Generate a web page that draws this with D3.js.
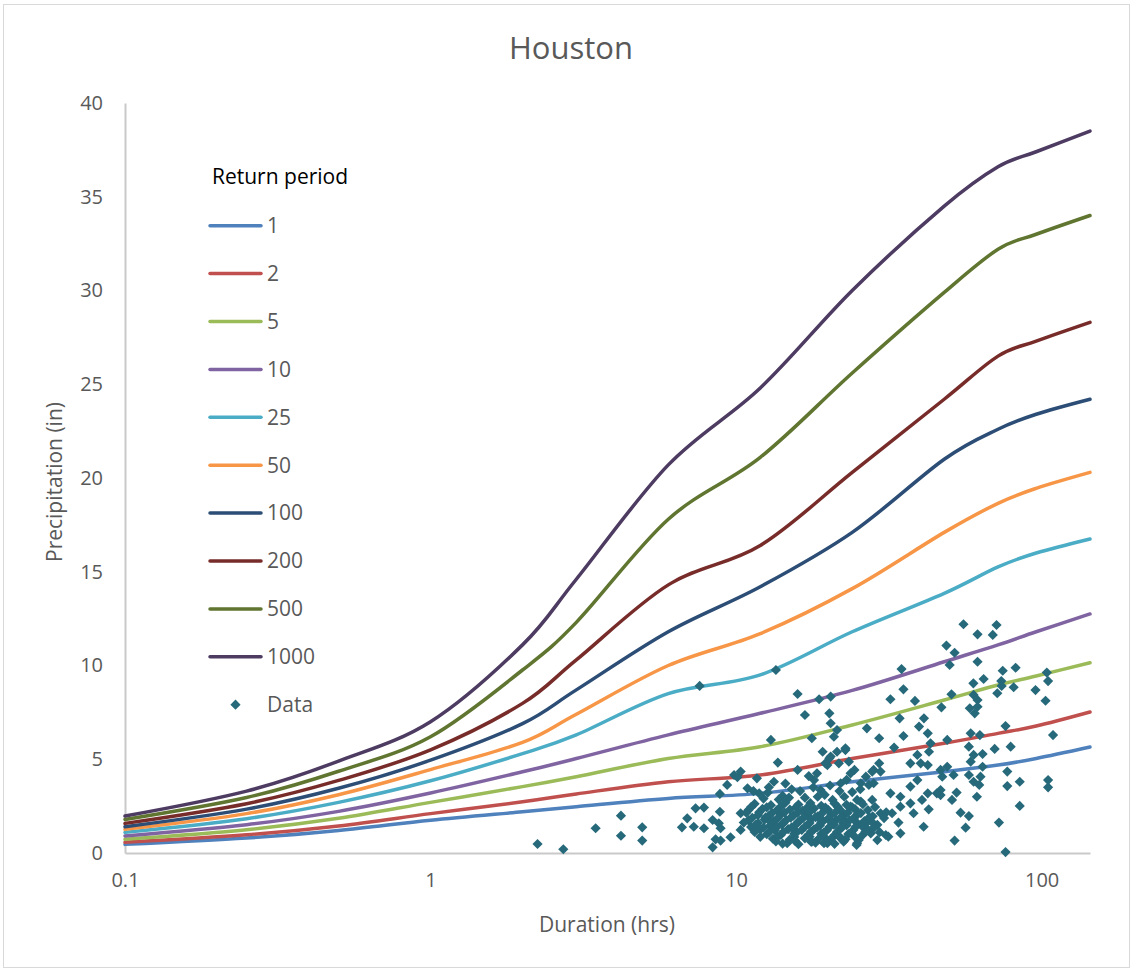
<!DOCTYPE html>
<html><head><meta charset="utf-8">
<script src="https://cdn.jsdelivr.net/npm/d3@7"></script>
<style>
body{margin:0;background:#fff}
svg{display:block}
text{font-family:"Open Sans","Noto Sans",sans-serif}
</style>
</head><body>
<svg id="chart" width="1133" height="972"></svg>
<script>
// ---------- data ----------
const durations = [0.1, 0.25, 0.5, 1, 2, 3, 6, 12, 24, 48, 72, 96, 144];
const returnPeriods = ["1", "2", "5", "10", "25", "50", "100", "200", "500", "1000"];
const rp1    = [0.46, 0.80, 1.20, 1.75, 2.20, 2.47, 2.91, 3.18, 3.80, 4.33, 4.69, 5.04, 5.65];
const rp2    = [0.57, 0.97, 1.44, 2.10, 2.73, 3.15, 3.80, 4.16, 5.04, 5.85, 6.38, 6.77, 7.52];
const rp5    = [0.73, 1.24, 1.85, 2.70, 3.54, 4.07, 5.04, 5.67, 6.83, 8.16, 8.96, 9.44, 10.15];
const rp10   = [0.91, 1.51, 2.22, 3.20, 4.33, 5.04, 6.30, 7.45, 8.67, 10.2, 11.1, 11.8, 12.75];
const rp25   = [1.10, 1.83, 2.70, 3.85, 5.30, 6.30, 8.50, 9.50, 11.8, 13.85, 15.26, 16.0, 16.75];
const rp50   = [1.26, 2.10, 3.11, 4.45, 5.90, 7.40, 10.0, 11.7, 14.1, 17.1, 18.65, 19.45, 20.3];
const rp100  = [1.40, 2.34, 3.45, 4.95, 6.90, 8.70, 11.8, 14.2, 17.1, 21.0, 22.6, 23.4, 24.2];
const rp200  = [1.58, 2.63, 3.87, 5.50, 7.98, 10.3, 14.3, 16.4, 20.3, 24.2, 26.5, 27.3, 28.3];
const rp500  = [1.79, 2.96, 4.36, 6.20, 9.76, 12.3, 17.8, 21.1, 25.6, 29.9, 32.2, 33.0, 34.0];
const rp1000 = [1.97, 3.30, 4.90, 7.00, 11.1, 14.6, 20.7, 24.8, 30.0, 34.5, 36.6, 37.4, 38.5];
const seriesValues = [rp1, rp2, rp5, rp10, rp25, rp50, rp100, rp200, rp500, rp1000];
const seriesColors = ["#4F81BD", "#C0504D", "#9BBB59", "#8064A2", "#4BACC6",
                      "#F79646", "#2C4D75", "#772C2A", "#5F7530", "#4D3B62"];

// observed data: [duration (hrs), precipitation (in)]
const dataPoints = [
 [2.24,0.48],[2.72,0.20],[3.47,1.32],[4.2,1.99],[4.2,0.92],[4.93,1.37],[4.93,0.66],
 [6.65,1.37],[6.92,1.85],[7.37,2.38],[7.85,2.42],[7.27,1.40],[7.85,1.32],[8.38,1.76],
 [8.85,2.20],[8.78,1.58],[8.9,1.32],[8.57,0.73],[8.9,0.66],[8.38,0.30],[9.59,0.84],
 [8.85,3.15],[9.35,3.63],[9.85,4.16],[10.35,4.34],[10.1,4.04],[10.9,3.45],[10.35,2.12],
 [10.35,1.23],[11.0,1.76],[11.7,3.98],[11.9,3.18],[12.7,3.22],[13.3,3.80],[13.7,4.82],
 [13.0,6.03],[7.6,8.91],[13.5,9.76],[15.9,8.48],[18.7,8.20],[20.4,8.34],[14.7,0.52],
 [15.9,4.43],[18.4,4.25],[19.2,5.40],[20.4,5.14],[21.4,5.40],[22.8,5.49],[19.9,4.69],
 [23.4,4.87],[23.7,4.25],[22.0,3.72],[25.6,3.72],[28.2,4.43],[25.6,2.74],[28.2,3.72],
 [17.7,0.60],[19.9,0.52],[22.0,0.78],[24.9,0.52],[27.6,1.05],
 [55.5,12.20],[71.2,12.16],[61.7,11.66],[69.2,11.63],[48.8,11.06],[51.9,10.68],[61.7,10.20],
 [50.0,10.03],[34.8,9.81],[74.6,9.72],[82.2,9.88],[104,9.62],[105,9.17],[64.6,9.28],
 [59.8,9.05],[73.8,9.17],[74.0,8.91],[81.0,8.84],[71.6,8.52],[95.5,8.69],[103,8.12],
 [35.3,8.73],[32.0,8.20],[38.5,8.11],[50.7,8.46],[59.9,8.43],[61.7,8.16],[58.2,7.72],
 [61.7,7.80],[60.4,7.45],[47.0,7.77],[34.3,7.18],[41.2,7.18],[39.7,6.74],[76.2,6.77],
 [109,6.29],[26.8,6.65],[29.4,6.12],[35.3,6.24],[32.9,5.62],[42.4,6.38],[43.3,5.85],
 [42.8,5.40],[49.1,6.03],[58.6,6.38],[62.8,6.29],[57.8,5.67],[59.9,5.23],[64.1,5.28],
 [58.6,4.87],[70.2,5.55],[79.2,5.67],[39.2,5.23],[40.2,4.78],[37.2,4.78],[42.4,4.69],
 [16.8,7.36],[20.2,7.45],[20.4,6.92],[21.4,6.56],[20.9,6.20],[17.7,6.12],[22.8,5.58],
 [20.2,5.05],[19.6,4.78],[21.7,4.78],[29.4,4.78],[29.7,4.34],[46.7,4.43],[49.1,4.60],
 [47.3,4.07],[51.5,4.16],[57.8,4.16],[59.9,3.80],[64.1,4.60],[63.1,4.07],[62.5,3.63],
 [61.4,3.00],[52.7,3.22],[77.2,4.34],[77.2,3.57],[84.8,3.80],[105,3.89],[105,3.50],
 [84.8,2.51],[72.5,1.62],[56.4,1.35],[51.9,0.66],[54.3,2.15],[57.8,1.97],[50.9,2.83],
 [46.7,3.09],[46.7,3.36],[76.2,0.05],[41.1,1.40],[38.1,2.12],[42.7,2.33],[37.2,2.65],
 [34.5,3.00],[34.5,2.47],[32.0,3.18],[32.4,2.12],[34.0,1.62],[34.5,1.05],[30.9,0.96],
 [29.0,0.69],[31.5,0.87],[26.6,1.58],[29.7,2.12],[27.9,2.83],[27.2,3.63],[24.9,2.83],
 [25.2,0.69],[24.8,0.43],[19.4,0.52],[22.5,1.76],[23.7,2.47],[20.7,2.83],[18.9,3.36],
 [18.0,3.89],[24.4,4.43],[26.6,4.07],[27.9,4.34],[37.2,3.54],[39.2,3.89],[42.4,3.18],
 [40.6,2.83],[45.4,3.18],
 [11.5,2.62],[13,2.55],[14.5,2.68],[16,2.58],[17.5,2.66],[19,2.52],[21,2.64],[23,2.57],[26,2.6],
 [11,2.3],[12.2,2.35],[13.6,2.28],[15,2.32],[16.5,2.25],[18,2.37],[20,2.3],[22,2.27],[24.5,2.34],[27,2.29],
 [11.8,2.02],[12.8,1.97],[14,2.05],[15.4,1.99],[17,2.03],[18.5,1.95],[20.5,2.04],[22.5,1.98],[25,2.06],[28,1.96],
 [11,1.72],[12.4,1.78],[13.3,1.7],[14.6,1.76],[16.2,1.73],[17.6,1.79],[19.3,1.71],[21.3,1.77],[23.5,1.74],[26.3,1.7],
 [11.6,1.5],[12.9,1.45],[14.1,1.52],[15.6,1.47],[17.2,1.53],[18.8,1.46],[20.9,1.51],[23,1.48],[25.8,1.44],[29,1.5],
 [12,1.25],[13.4,1.21],[14.8,1.27],[16.4,1.23],[18,1.26],[19.8,1.2],[21.8,1.28],[24.2,1.22],[27,1.25],
 [12.6,1.0],[14,0.96],[15.5,1.03],[17.3,0.98],[19,1.02],[21,0.95],[23.3,1.01],[26,0.97],
 [13.2,0.76],[15,0.72],[16.8,0.78],[18.6,0.74],[20.5,0.77],[22.8,0.73],
 [14.2,0.5],[16,0.47],[18.2,0.55],[21,0.49],
 [12.3,2.9],[14.2,3.05],[16.8,2.95],[19.5,3.1],[22.6,3.0],[15.2,3.4],[17.9,3.5],[21.8,3.3],[24,3.25],[13.8,2.85],
 [11.2,2.45],[12.6,2.43],[14.0,2.47],[15.7,2.44],[17.2,2.46],[19.6,2.42],[21.5,2.47],[24,2.44],[28.5,2.45],
 [10.8,2.15],[11.9,2.17],[13.1,2.13],[14.4,2.16],[15.9,2.14],[17.4,2.18],[19.1,2.12],[21.1,2.16],[23.2,2.15],[25.6,2.13],[31,2.17],
 [11.3,1.88],[12.5,1.9],[13.7,1.86],[15.1,1.89],[16.6,1.87],[18.2,1.91],[20.1,1.86],[22,1.89],[24.3,1.88],[27.3,1.9],[30.5,1.86],
 [10.6,1.62],[11.8,1.6],[13,1.64],[14.3,1.61],[15.9,1.63],[17.4,1.6],[19,1.64],[20.5,1.62],[22.4,1.6],[24.8,1.63],[28,1.61],
 [11.2,1.38],[12.3,1.36],[13.6,1.39],[15.2,1.37],[16.8,1.4],[18.4,1.36],[20.2,1.38],[22.2,1.35],[24.6,1.39],[28.3,1.37],
 [11.5,1.12],[12.8,1.1],[14.3,1.13],[15.8,1.11],[17.6,1.14],[19.4,1.1],[21.4,1.12],[23.8,1.09],[26.5,1.13],[29.5,1.11],
 [12,0.86],[13.7,0.88],[15.5,0.85],[17.4,0.87],[19.5,0.84],[21.8,0.88],[24.5,0.86],
 [13.5,0.62],[15.6,0.64],[17.6,0.6],[19.8,0.63],[22.5,0.61],
 [12.8,3.5],[14.5,3.7],[16.2,3.3],[18.5,3.0],[20.3,3.6],[23,3.9],[25.5,3.4],[11.4,3.3],[14.9,2.95],[17.3,4.1]
];

const xTicks = [0.1, 1, 10, 100];
const xTickLabels = ["0.1", "1", "10", "100"];
const yTicks = [0, 5, 10, 15, 20, 25, 30, 35, 40];
const chartTitle = "Houston";
const xTitle = "Duration (hrs)";
const yTitle = "Precipitation (in)";
const legendTitle = "Return period";
const dataLabel = "Data";
const markerColor = "#26697A";

// ---------- layout ----------
const svg = d3.select("#chart");
const W = 1133, H = 972;
const plot = {left: 125, right: 1090, top: 103, bottom: 853};
const textColor = "#595959";

svg.append("rect").attr("x", 0).attr("y", 0).attr("width", W).attr("height", H).attr("fill", "#fff");
svg.append("rect").attr("x", 3.5).attr("y", 4.5).attr("width", 1126).attr("height", 963)
   .attr("fill", "none").attr("stroke", "#d9d9d9").attr("stroke-width", 1);

const x = d3.scaleLog().domain([0.1, 144]).range([plot.left, plot.right]);
const y = d3.scaleLinear().domain([0, 40]).range([plot.bottom, plot.top]);

// axes
const xAxis = d3.axisBottom(x).tickValues(xTicks).tickFormat((d, i) => xTickLabels[i]).tickSize(0).tickPadding(20);
const yAxis = d3.axisLeft(y).tickValues(yTicks).tickFormat(d3.format("d")).tickSize(0).tickPadding(22);

const gx = svg.append("g").attr("transform", `translate(0,${plot.bottom})`).call(xAxis);
const gy = svg.append("g").attr("transform", `translate(${plot.left},0)`).call(yAxis);
[gx, gy].forEach(g => {
  g.select(".domain").attr("stroke", "#c9c9c9").attr("stroke-width", 2);
  g.selectAll("text").attr("fill", textColor).style("font-size", "20px").style("font-family", '"Open Sans", sans-serif');
});

// titles
svg.append("text").attr("x", 571).attr("y", 48).attr("text-anchor", "middle").attr("dy", "0.35em")
  .attr("fill", textColor).style("font-size", "31px").text(chartTitle);
svg.append("text").attr("x", 607).attr("y", 925).attr("text-anchor", "middle").attr("dy", "0.35em")
  .attr("fill", textColor).style("font-size", "21px").text(xTitle);
svg.append("text").attr("transform", "translate(55,482) rotate(-90)").attr("text-anchor", "middle").attr("dy", "0.35em")
  .attr("fill", textColor).style("font-size", "21px").text(yTitle);

// lines
const line = d3.line().x(d => x(d[0])).y(d => y(d[1])).curve(d3.curveCardinal.tension(0));
const gLines = svg.append("g");
seriesValues.forEach((vals, i) => {
  gLines.append("path")
    .datum(durations.map((d, j) => [d, vals[j]]))
    .attr("fill", "none").attr("stroke", seriesColors[i]).attr("stroke-width", 3.5)
    .attr("stroke-linecap", "round").attr("stroke-linejoin", "round")
    .attr("d", line);
});

// scatter
const diamond = d3.symbol().type(d3.symbolSquare).size(52);
svg.append("g").selectAll("path").data(dataPoints).join("path")
  .attr("d", diamond)
  .attr("transform", d => `translate(${x(d[0])},${y(d[1])}) rotate(45)`)
  .attr("fill", markerColor);

// legend
const lg = svg.append("g");
lg.append("text").attr("x", 212).attr("y", 177).attr("dy", "0.35em").attr("fill", "#000")
  .style("font-size", "21px").text(legendTitle);
const rowY = i => 225.7 + i * 47.9;
returnPeriods.forEach((rp, i) => {
  lg.append("line").attr("x1", 210).attr("x2", 261).attr("y1", rowY(i)).attr("y2", rowY(i))
    .attr("stroke", seriesColors[i]).attr("stroke-width", 3.5).attr("stroke-linecap", "round");
  lg.append("text").attr("x", 267).attr("y", rowY(i)).attr("dy", "0.35em").attr("fill", textColor)
    .style("font-size", "21px").text(rp);
});
lg.append("path").attr("d", diamond)
  .attr("transform", `translate(235.5,${rowY(10)}) rotate(45)`).attr("fill", markerColor);
lg.append("text").attr("x", 267).attr("y", rowY(10)).attr("dy", "0.35em").attr("fill", textColor)
  .style("font-size", "21px").text(dataLabel);
</script>
</body></html>
